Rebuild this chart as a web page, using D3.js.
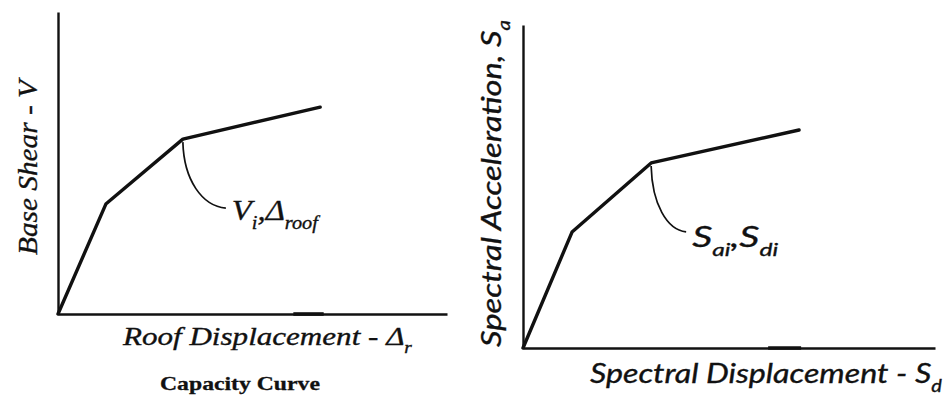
<!DOCTYPE html>
<html>
<head>
<meta charset="utf-8">
<script src="https://cdn.jsdelivr.net/npm/d3@7/dist/d3.min.js"></script>
<style>
  html, body { margin: 0; padding: 0; background: #fff; }
  svg { display: block; }
</style>
</head>
<body>
<svg id="chart" width="950" height="401"></svg>
<script>
// Capacity curve: base shear vs. roof displacement (percent of axis span)
const capDisp  = [0, 12.3, 32.1, 67.4];
const capShear = [0, 36.4, 57.9, 68.5];

// Capacity spectrum: spectral acceleration vs. spectral displacement
const specDisp = [0, 11.9, 31.1, 67.0];
const specAcc  = [0, 35.9, 57.3, 67.5];

// Index of the performance point highlighted on each curve
const perfIndex = 2;

// Text labels (each piece: [text, isSubscript])
const capXLabel   = [["Roof Displacement - Δ", false], ["r", true]];
const capYLabel   = [["Base Shear - V", false]];
const capPoint    = [["V", false], ["i", true], [",", false], ["Δ", false], ["roof", true]];
const capCaption  = [["Capacity Curve", false]];
const specXLabel  = [["Spectral Displacement - S", false], ["d", true]];
const specYLabel  = [["Spectral Acceleration, S", false], ["a", true]];
const specPoint   = [["S", false], ["ai", true], [",", false], ["S", false], ["di", true]];

const domain = [0, 100];
const ink = "#111";
const serif = "'Liberation Serif', 'Times New Roman', serif";
const sans = "Lato, 'Open Sans', sans-serif";
const svg = d3.select("#chart");

// Writes a label made of plain and subscript runs, then stretches it
// horizontally (along its own direction) to the requested length.
function label(parent, o) {
  const g = parent.append("g")
    .attr("transform", `translate(${o.x},${o.y}) rotate(${o.rotate || 0})`);
  const s = g.append("g");
  const t = s.append("text")
    .attr("x", 0).attr("y", 0)
    .attr("fill", ink)
    .attr("stroke", ink)
    .attr("stroke-width", o.weight || 0.35)
    .style("font-family", o.font)
    .style("font-size", o.size + "px")
    .style("font-style", o.italic ? "italic" : "normal")
    .style("font-weight", o.bold ? "bold" : "normal");
  let shifted = false;
  o.parts.forEach(([txt, sub]) => {
    const sp = t.append("tspan").text(txt);
    if (sub && !shifted) { sp.attr("dy", o.size * 0.32).style("font-size", (o.size * 0.62) + "px"); shifted = true; }
    else if (sub) { sp.style("font-size", (o.size * 0.62) + "px"); }
    else if (!sub && shifted) { sp.attr("dy", -o.size * 0.32); shifted = false; }
  });
  if (o.width) {
    const w = t.node().getComputedTextLength();
    s.attr("transform", `scale(${o.width / w},1)`);
  }
  return g;
}

function panel(cfg) {
  const x = d3.scaleLinear().domain(domain).range(cfg.xRange);
  const y = d3.scaleLinear().domain(domain).range(cfg.yRange);
  const g = svg.append("g");

  // Axes: plain lines with no ticks
  const xa = g.append("g").attr("transform", `translate(0,${y(0)})`)
    .call(d3.axisBottom(x).tickValues([]).tickSizeOuter(0));
  const ya = g.append("g").attr("transform", `translate(${x(0)},0)`)
    .call(d3.axisLeft(y).tickValues([]).tickSizeOuter(0));
  [xa, ya].forEach(a => a.select(".domain")
    .attr("stroke", ink).attr("stroke-width", 2.4));

  // Heavier printed stretch along the displacement axis
  g.append("line")
    .attr("x1", x(cfg.heavy[0])).attr("x2", x(cfg.heavy[1]))
    .attr("y1", y(0)).attr("y2", y(0))
    .attr("stroke", ink).attr("stroke-width", 3.6);

  // The multilinear curve
  const pts = cfg.xs.map((v, i) => [v, cfg.ys[i]]);
  g.append("path")
    .datum(pts)
    .attr("d", d3.line().x(d => x(d[0])).y(d => y(d[1])))
    .attr("fill", "none")
    .attr("stroke", ink)
    .attr("stroke-width", 3.4)
    .attr("stroke-linejoin", "round")
    .attr("stroke-linecap", "round");

  // Leader from the performance point to its label
  const px = x(pts[perfIndex][0]), py = y(pts[perfIndex][1]) + 3;
  const ex = px + cfg.lead[0], ey = py + cfg.lead[1];
  const p = d3.path();
  p.moveTo(px, py);
  p.bezierCurveTo(px + 1, py + 38, ex - cfg.lead[0] * 0.55, ey - 2, ex, ey);
  g.append("path").attr("d", p.toString())
    .attr("fill", "none").attr("stroke", ink).attr("stroke-width", 1.7);

  label(g, Object.assign({ x: ex + 6, y: ey + cfg.pointDy, parts: cfg.pointText }, cfg.pointFont));

  return { g, x, y };
}

// Left: capacity curve
const left = panel({
  xRange: [58, 447], yRange: [314, 12],
  xs: capDisp, ys: capShear,
  heavy: [60.5, 68.3],
  lead: [43, 66], pointDy: 12,
  pointText: capPoint,
  pointFont: { font: serif, size: 29, italic: true, width: 86 }
});
label(left.g, { x: 123, y: 345, parts: capXLabel, font: serif, size: 26, italic: true, width: 289 });
label(left.g, { x: 37, y: 255, rotate: -90, parts: capYLabel, font: serif, size: 27, italic: true, width: 175 });
label(left.g, { x: 160, y: 390, parts: capCaption, font: serif, size: 19, bold: true, width: 160, weight: 0.3 });

// Right: capacity spectrum
const right = panel({
  xRange: [523, 935], yRange: [348, 25],
  xs: specDisp, ys: specAcc,
  heavy: [59.5, 67.5],
  lead: [35, 66], pointDy: 15,
  pointText: specPoint,
  pointFont: { font: sans, size: 29, italic: true, width: 86 }
});
label(right.g, { x: 590, y: 383, parts: specXLabel, font: sans, size: 27, italic: true, width: 352 });
label(right.g, { x: 501, y: 347, rotate: -90, parts: specYLabel, font: sans, size: 27, italic: true, width: 327 });
</script>
</body>
</html>
